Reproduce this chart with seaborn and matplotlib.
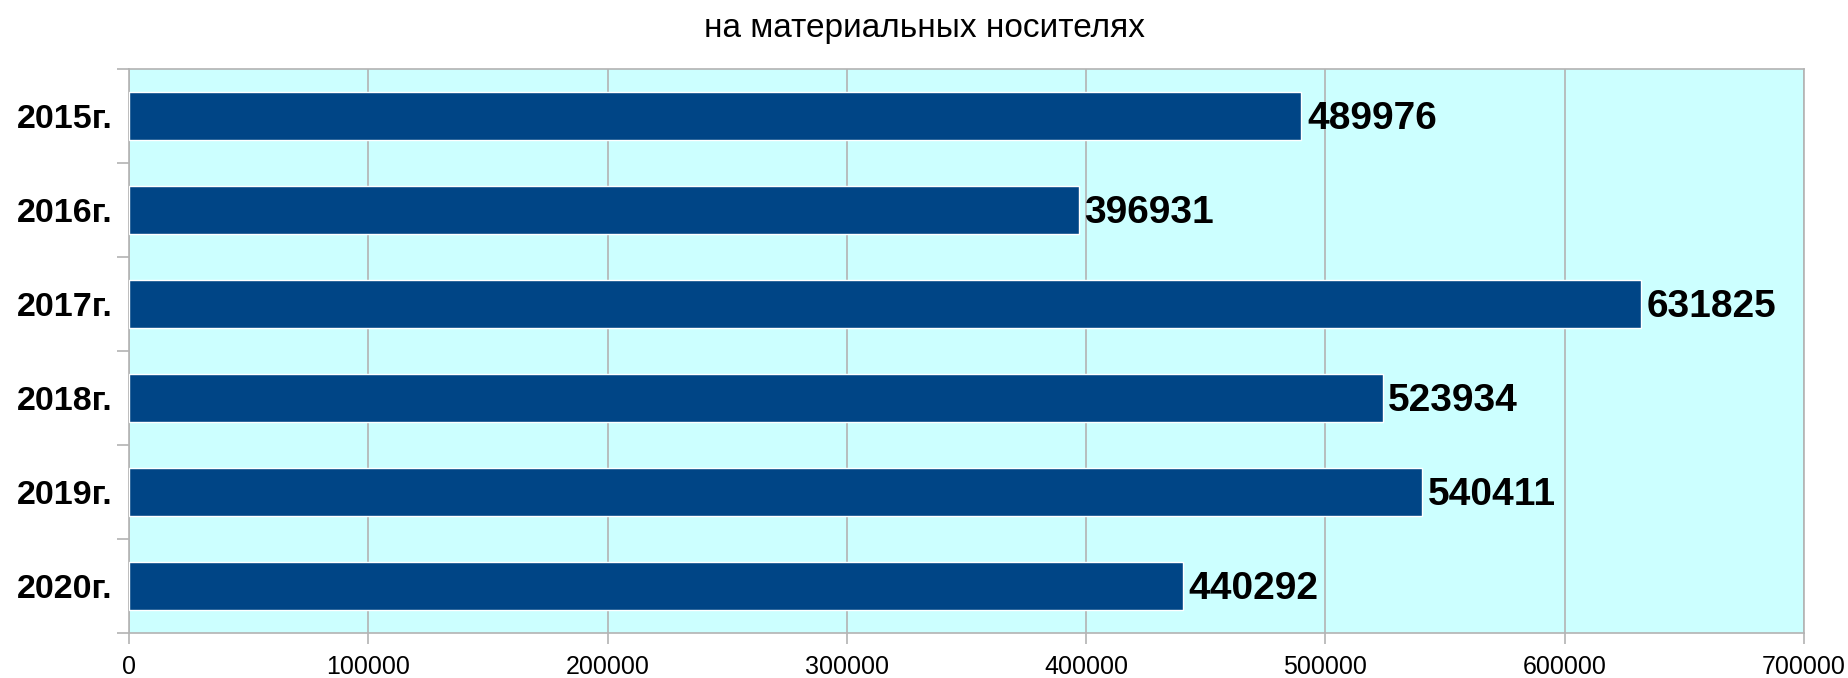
import numpy as np
import matplotlib
matplotlib.use("Agg")
import matplotlib.pyplot as plt
import seaborn as sns

years = ["2015г.", "2016г.", "2017г.", "2018г.", "2019г.", "2020г."]
values = [489976, 396931, 631825, 523934, 540411, 440292]
x_ticks = [0, 100000, 200000, 300000, 400000, 500000, 600000, 700000]
title = "на материальных носителях"

BAR = "#004586"
BG = "#ccffff"
GRID = "#b3b3b3"

sns.set_theme(style="white")
plt.rcParams["font.family"] = ["Liberation Sans", "DejaVu Sans"]
plt.rcParams["text.color"] = "black"
plt.rcParams["xtick.labelcolor"] = "black"
plt.rcParams["ytick.labelcolor"] = "black"

fig = plt.figure(figsize=(18.49, 6.78), dpi=100)
ax = fig.add_axes([129 / 1849, 1 - 633 / 678, (1804 - 129) / 1849, (633 - 69) / 678])
ax.set_facecolor(BG)

sns.barplot(x=values, y=years, orient="h", color=BAR, saturation=1,
            width=0.52, ax=ax, zorder=3)

ax.set_xlim(0, 700000)
ax.set_ylim(5.5, -0.5)
ax.set_xticks(x_ticks)
ax.set_xticklabels([str(t) for t in x_ticks], fontsize=18)
ax.xaxis.grid(True, color=GRID, linewidth=1.2, zorder=0)
ax.set_axisbelow(True)

ax.set_yticks(range(len(years)))
ax.set_yticklabels(years, fontsize=24.5, fontweight="bold")
ax.set_yticks(np.arange(-0.5, len(years), 1.0), minor=True)
ax.tick_params(axis="y", which="major", length=0, pad=12)
ax.tick_params(axis="y", which="minor", length=8.6, color=GRID, width=1.2, left=True)
ax.tick_params(axis="x", length=8, color=GRID, width=1.2, bottom=True, pad=8)

for s in ax.spines.values():
    s.set_color(GRID)
    s.set_linewidth(1.2)

for c in ax.containers:
    anns = ax.bar_label(c, labels=[str(v) for v in values], padding=4,
                        fontsize=28, fontweight="bold", color="black")
    for a in anns:
        a.xyann = (4, -2)

ax.set_xlabel("")
ax.set_ylabel("")
fig.text(0.5, 1 - 28 / 678, title, ha="center", va="center", fontsize=24)

fig.savefig("out.png", dpi=100)
